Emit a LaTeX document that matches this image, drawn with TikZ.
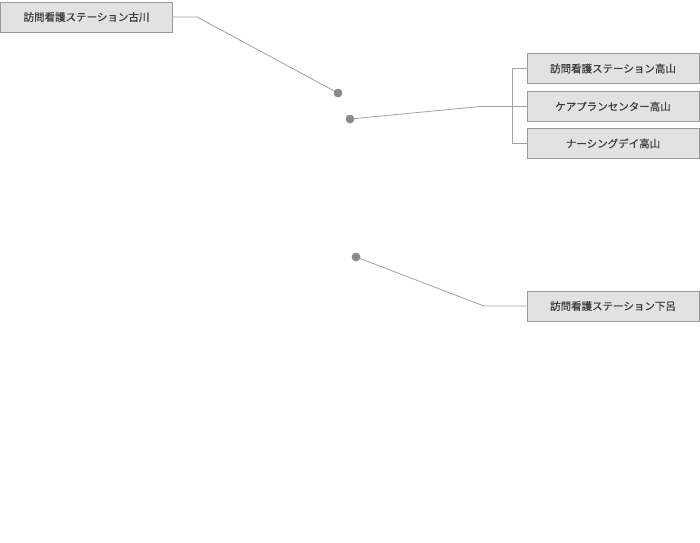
\documentclass[tikz,border=0pt]{standalone}
\usepackage{fontspec}
\newfontfamily\jpfont[FakeBold=0.5]{Noto Sans CJK JP}
\definecolor{boxfill}{HTML}{E1E2E1}
\definecolor{boxline}{HTML}{9A9A9A}
\definecolor{wiregray}{HTML}{A0A0A0}
\definecolor{dotgray}{HTML}{8A8A8A}
\definecolor{textgray}{HTML}{3C3C3C}
\begin{document}
\begin{tikzpicture}[x=1pt,y=-1pt,
  office/.style={draw=boxline,fill=boxfill,line width=1pt,minimum width=172pt,minimum height=30pt,inner sep=0pt,text=textgray,font=\jpfont\fontsize{10.5}{12}\selectfont},
  pin/.style={circle,fill=dotgray,inner sep=0pt,minimum size=8.5pt},
  wire/.style={draw=wiregray,line width=0.8pt}]

\useasboundingbox (0,0) rectangle (700,542);

\node[office] (furukawa) at (86.5,17) {訪問看護ステーション古川};

\node[office] (hvtakayama) at (613,68.5) {訪問看護ステーション高山};
\node[office] (cptakayama) at (613,106.5) {ケアプランセンター高山};
\node[office] (nstakayama) at (613,143.5) {ナーシングデイ高山};

\node[office] (gero) at (613,306) {訪問看護ステーション下呂};

\coordinate (fkbend) at (197,17);
\coordinate (tkbend) at (480,106.5);
\coordinate (tkfork) at (512,106.5);
\coordinate (grbend) at (484,306);

\node[pin] (pinfurukawa) at (338,93) {};
\node[pin] (pintakayama) at (350,119) {};
\node[pin] (pingero) at (356,257) {};

\draw[wire] (furukawa.east) -- (fkbend) -- (pinfurukawa.center);
\draw[wire] (pintakayama.center) -- (tkbend) -- (tkfork);
\draw[wire] (hvtakayama.west) -| (tkfork) |- (nstakayama.west);
\draw[wire] (tkfork) -- (cptakayama.west);
\draw[wire] (pingero.center) -- (grbend) -- (gero.west);

\node[pin] at (pinfurukawa) {};
\node[pin] at (pintakayama) {};
\node[pin] at (pingero) {};
\end{tikzpicture}
\end{document}
